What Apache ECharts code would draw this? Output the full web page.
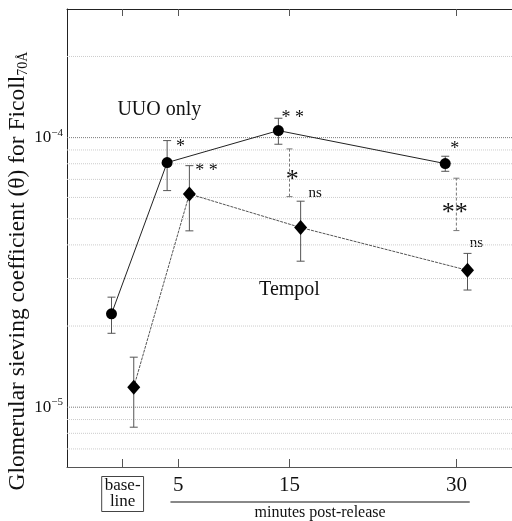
<!DOCTYPE html>
<html>
<head>
<meta charset="utf-8">
<script src="https://cdn.jsdelivr.net/npm/echarts@6/dist/echarts.min.js"></script>
<style>
  html, body { margin: 0; padding: 0; background: #fff; }
  #chart { width: 512px; height: 521px; }
</style>
</head>
<body>
<div id="chart"></div>
<script>
// time points (minutes after release, 0 = baseline)
var minutes = [0, 5, 15, 30];
var dodge = 1; // UUO drawn 1 min left, Tempol 1 min right

var uuoMean = [2.22e-5, 8.08e-5, 1.062e-4, 8.01e-5];
var uuoHigh = [2.56e-5, 9.75e-5, 1.18e-4, 8.53e-5];
var uuoLow  = [1.88e-5, 6.36e-5, 9.45e-5, 7.50e-5];

var tempolMean = [1.186e-5, 6.18e-5, 4.64e-5, 3.22e-5];
var tempolHigh = [1.533e-5, 7.87e-5, 5.81e-5, 3.72e-5];
var tempolLow  = [8.43e-6, 4.51e-5, 3.48e-5, 2.72e-5];

// between-group comparison bars
var compareX = [15, 30];
var compareHigh = [9.08e-5, 7.07e-5];
var compareLow  = [6.04e-5, 4.52e-5];

var xTickValues = [0, 5, 15, 30];
var xLabelValues = [5, 15, 30];
var majorGrid = [1e-5, 1e-4];
var minorGrid = [7e-6, 8e-6, 9e-6, 2e-5, 3e-5, 4e-5, 5e-5, 6e-5, 7e-5, 8e-5, 9e-5, 2e-4];

var serif = 'Liberation Serif';

var dom = document.getElementById('chart');
var myChart = echarts.init(dom);

function pts(xs, off, ys) {
  return xs.map(function (x, i) { return [x + off, ys[i]]; });
}
function bars(xs, off, lo, hi) {
  return xs.map(function (x, i) { return [x + off, lo[i], hi[i]]; });
}

function barRenderer(color, dash, capW) {
  return function (params, api) {
    var x = api.value(0);
    var p1 = api.coord([x, api.value(1)]);
    var p2 = api.coord([x, api.value(2)]);
    var st = { stroke: color, lineWidth: 1, lineDash: dash };
    return {
      type: 'group',
      children: [
        { type: 'line', shape: { x1: p1[0], y1: p1[1], x2: p2[0], y2: p2[1] }, style: st },
        { type: 'line', shape: { x1: p1[0] - capW, y1: p1[1], x2: p1[0] + capW, y2: p1[1] }, style: { stroke: color, lineWidth: 1 } },
        { type: 'line', shape: { x1: p2[0] - capW, y1: p2[1], x2: p2[0] + capW, y2: p2[1] }, style: { stroke: color, lineWidth: 1 } }
      ]
    };
  };
}

function gridRenderer(color) {
  return function (params, api) {
    var cs = params.coordSys;
    var y = api.coord([0, api.value(1)])[1];
    return {
      type: 'line',
      shape: { x1: cs.x, y1: y, x2: cs.x + cs.width, y2: y },
      style: { stroke: color, lineWidth: 1, lineDash: [1, 1] }
    };
  };
}

var option = {
  backgroundColor: '#fff',
  animation: false,
  grid: { left: 67, top: 9, width: 447, height: 458 },
  xAxis: [
    {
      type: 'value', min: -5, max: 35, position: 'bottom',
      axisLine: { onZero: false, lineStyle: { color: '#555', width: 1 } },
      axisTick: { inside: true, length: 8, customValues: xTickValues, lineStyle: { color: '#555' } },
      axisLabel: {
        customValues: xLabelValues, margin: 8,
        fontFamily: serif, fontSize: 21, color: '#111'
      },
      splitLine: { show: false }
    },
    {
      type: 'value', min: -5, max: 35, position: 'top',
      axisLine: { onZero: false, lineStyle: { color: '#222', width: 1 } },
      axisTick: { inside: true, length: 7, customValues: xTickValues, lineStyle: { color: '#555' } },
      axisLabel: { show: false },
      splitLine: { show: false }
    }
  ],
  yAxis: {
    type: 'log', logBase: 10, min: 6e-6, max: 3e-4,
    axisLine: { show: true, onZero: false, lineStyle: { color: '#222', width: 1 } },
    axisTick: { show: false },
    splitLine: { show: false },
    axisLabel: {
      margin: 4,
      formatter: function (v) {
        var e = Math.log10(v);
        var r = Math.round(e);
        if (Math.abs(e - r) > 1e-6) return '';
        return '{b|10}{s|\u2212' + Math.abs(r) + '}';
      },
      rich: {
        b: { fontFamily: serif, fontSize: 17, color: '#111' },
        s: { fontFamily: serif, fontSize: 11, color: '#111', padding: [0, 0, 10, 0] }
      }
    }
  },
  series: [
    {
      type: 'custom', renderItem: gridRenderer('#cccccc'), silent: true,
      data: minorGrid.map(function (v) { return [0, v]; }), z: 1
    },
    {
      type: 'custom', renderItem: gridRenderer('#7a7a7a'), silent: true,
      data: majorGrid.map(function (v) { return [0, v]; }), z: 1
    },
    {
      name: 'UUO only', type: 'line',
      data: pts(minutes, -dodge, uuoMean),
      symbol: 'circle', symbolSize: 11,
      itemStyle: { color: '#000' },
      lineStyle: { color: '#222', width: 1 },
      z: 5
    },
    {
      name: 'Tempol', type: 'line',
      data: pts(minutes, dodge, tempolMean),
      symbol: 'diamond', symbolSize: [13, 15],
      itemStyle: { color: '#000' },
      lineStyle: { color: '#555', width: 1, type: [3, 1] },
      z: 5
    },
    {
      type: 'custom', renderItem: barRenderer('#555', null, 4),
      data: bars(minutes, -dodge, uuoLow, uuoHigh), z: 3
    },
    {
      type: 'custom', renderItem: barRenderer('#555', null, 4),
      data: bars(minutes, dodge, tempolLow, tempolHigh), z: 3
    },
    {
      type: 'custom', renderItem: barRenderer('#777', [3, 2], 3),
      data: bars(compareX, 0, compareLow, compareHigh), z: 3
    }
  ]
};

myChart.setOption(option, true);

// text annotations placed in data coordinates
var notes = [
  { x: 3.3, y: 1.265e-4, t: 'UUO only', size: 20 },
  { x: 15.0, y: 2.72e-5, t: 'Tempol', size: 20 },
  { x: 5.2, y: 9.64e-5, t: '*', size: 18, star: true },
  { x: 15.3, y: 1.234e-4, t: '* *', size: 18, star: true },
  { x: 29.85, y: 9.48e-5, t: '*', size: 18, star: true },
  { x: 7.55, y: 7.85e-5, t: '* *', size: 18, star: true },
  { x: 17.3, y: 6.24e-5, t: 'ns', size: 15 },
  { x: 31.8, y: 4.07e-5, t: 'ns', size: 15 },
  { x: 15.25, y: 7.4e-5, t: '*', size: 26, star: true },
  { x: 29.85, y: 5.58e-5, t: '**', size: 26, star: true }
];

function px(x, y) {
  return myChart.convertToPixel({ gridIndex: 0 }, [x, y]);
}

var graphics = notes.map(function (n) {
  var p = px(n.x, n.y);
  return {
    type: 'text', x: p[0], y: p[1] + (n.star ? n.size * 0.28 : 0), silent: true,
    style: {
      text: n.t, font: n.size + 'px "' + serif + '"', fill: '#111',
      textAlign: 'center', textVerticalAlign: 'middle'
    }
  };
});

var b0 = px(0, 6e-6);
var u1 = px(4.3, 6e-6);
var u2 = px(31.2, 6e-6);
graphics.push({
  type: 'text', x: b0[0], y: 494, silent: true,
  style: {
    text: 'base-\nline', font: '17px "' + serif + '"', fill: '#111', lineHeight: 16,
    textAlign: 'center', textVerticalAlign: 'middle',
    borderColor: '#444', borderWidth: 1, padding: [2, 3, 1, 3]
  }
});
graphics.push({
  type: 'line', silent: true,
  shape: { x1: u1[0], y1: 502, x2: u2[0], y2: 502 },
  style: { stroke: '#888', lineWidth: 2 }
});
graphics.push({
  type: 'text', x: (u1[0] + u2[0]) / 2, y: 513, silent: true,
  style: {
    text: 'minutes post-release', font: '16px "' + serif + '"', fill: '#111',
    textAlign: 'center', textVerticalAlign: 'middle'
  }
});
graphics.push({
  type: 'text', x: 18, y: 271, rotation: Math.PI / 2, silent: true,
  style: {
    text: '{n|Glomerular sieving coefficient (\u03b8) for Ficoll}{sub|70\u00c5}',
    textAlign: 'center', textVerticalAlign: 'middle',
    rich: {
      n: { fontFamily: serif, fontSize: 23.5, fill: '#111' },
      sub: { fontFamily: serif, fontSize: 14, fill: '#111', padding: [10, 0, 0, 0] }
    }
  }
});

myChart.setOption({ graphic: graphics });
</script>
</body>
</html>
